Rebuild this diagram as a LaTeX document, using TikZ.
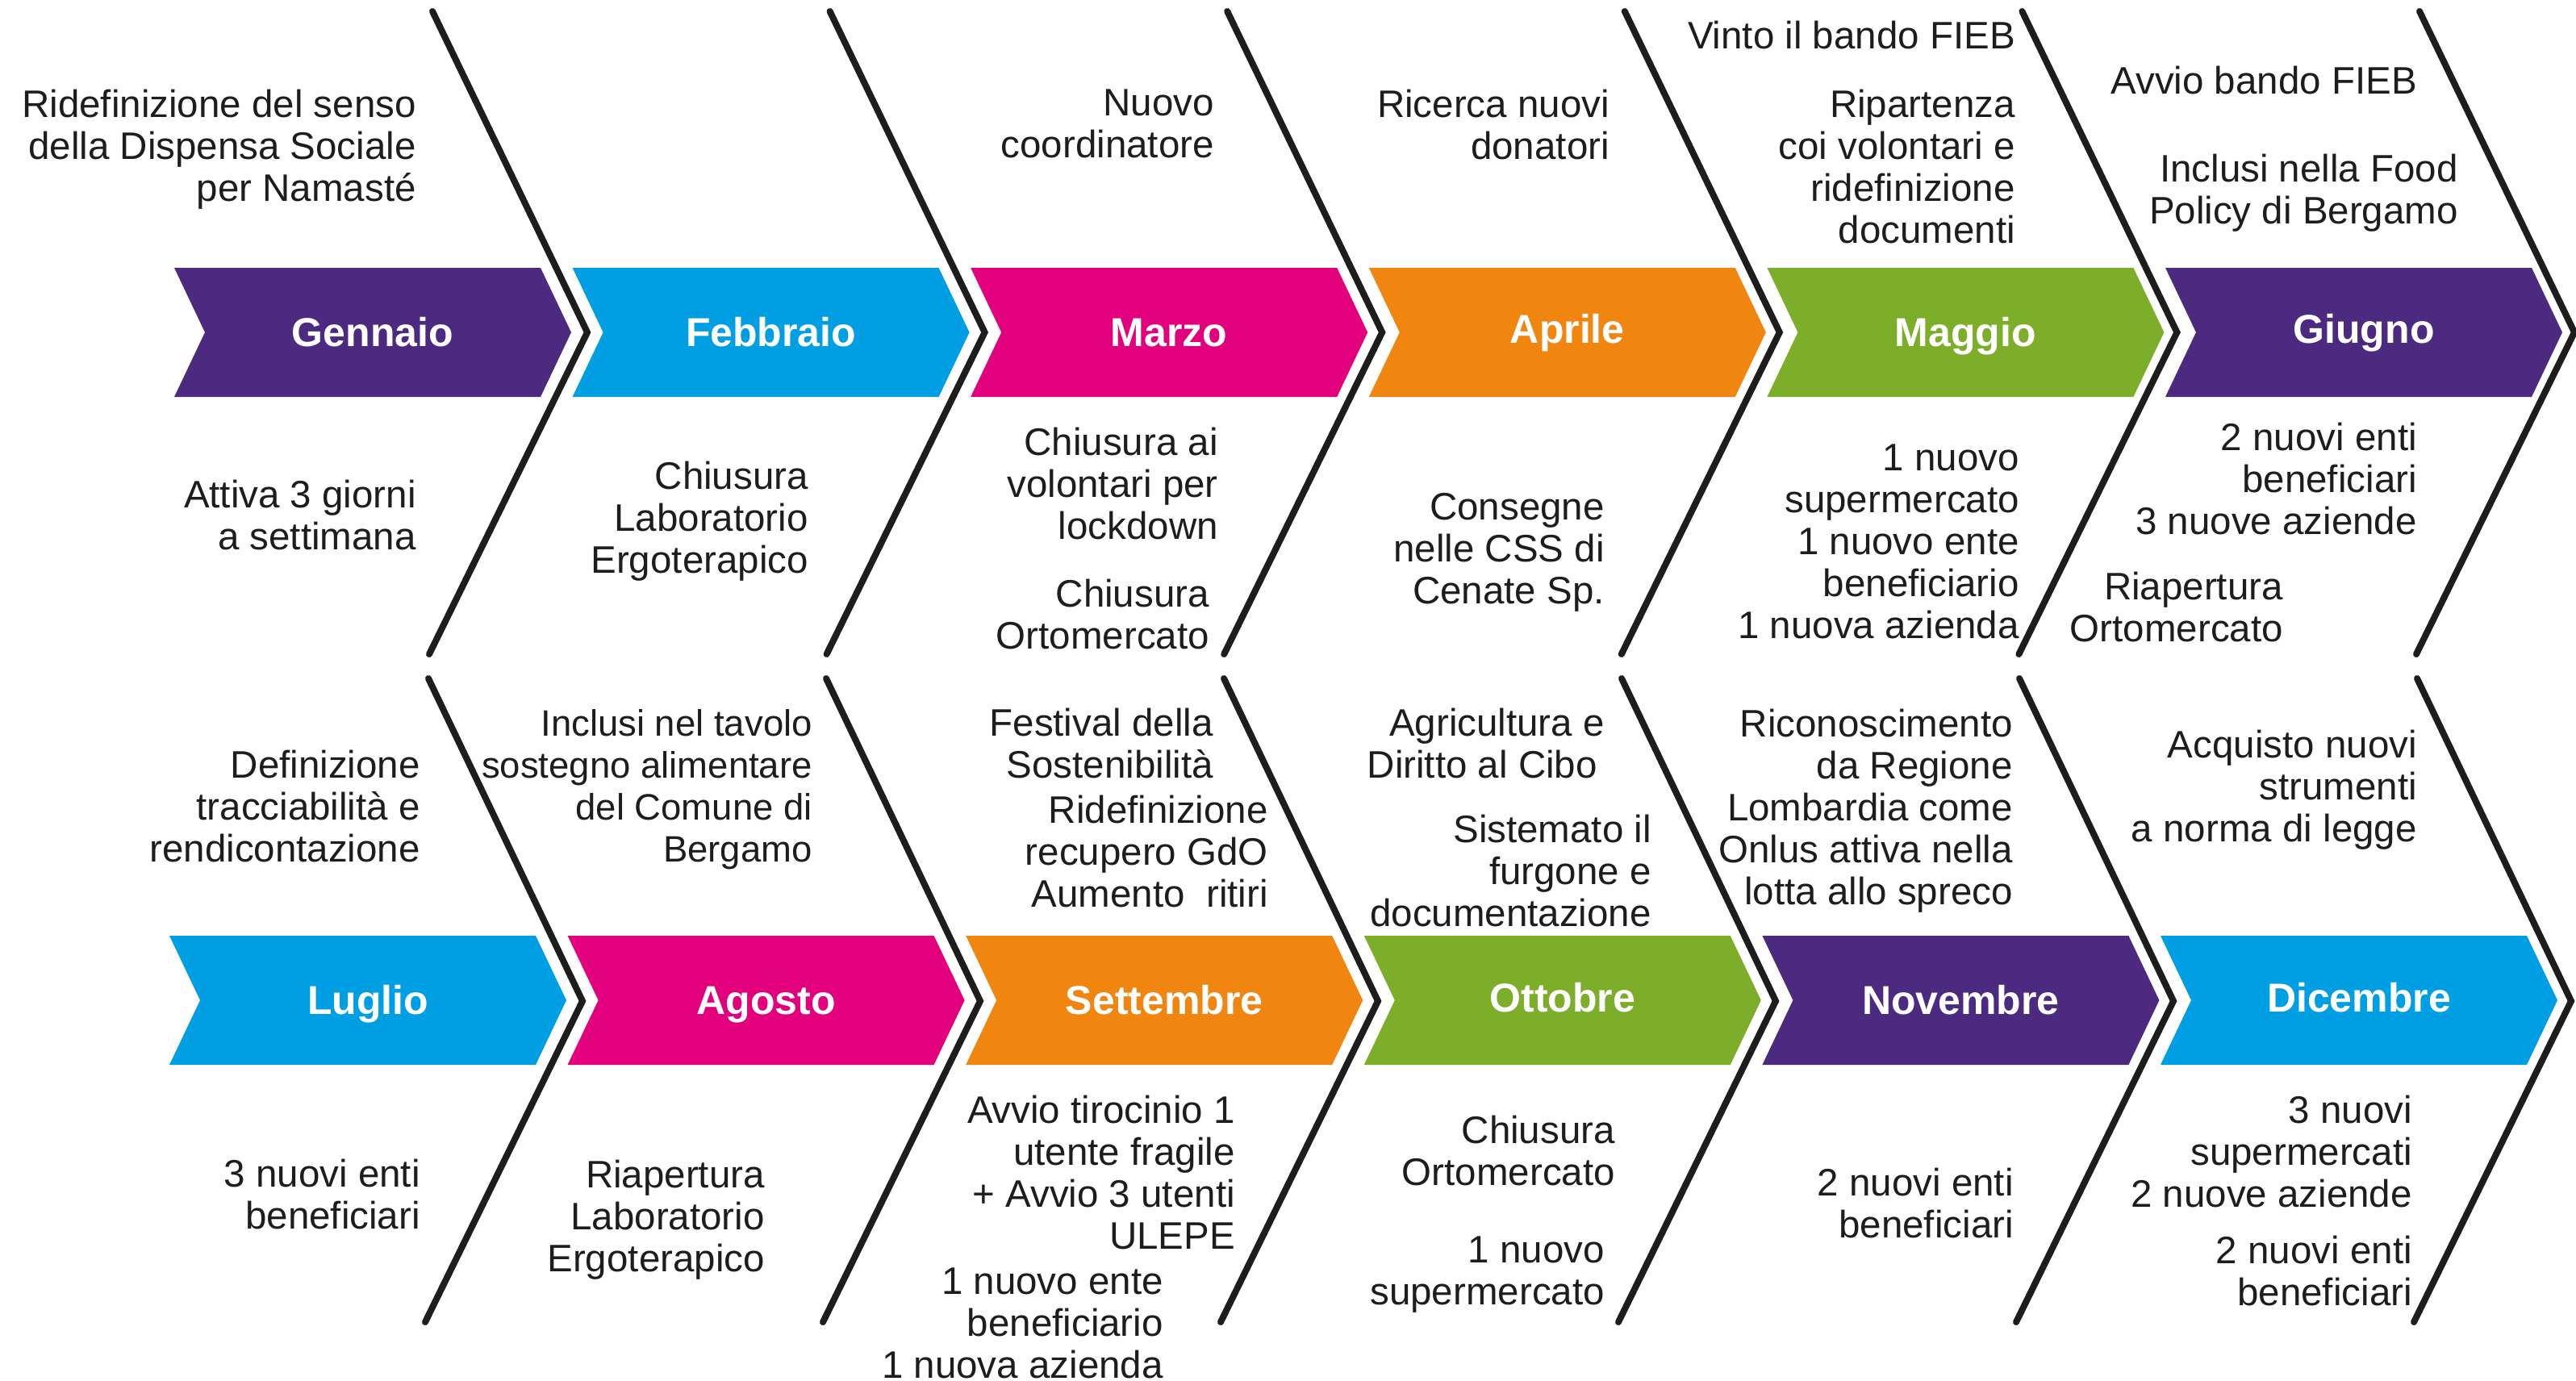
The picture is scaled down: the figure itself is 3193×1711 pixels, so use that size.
\documentclass[tikz,border=0pt]{standalone}
\usepackage{fontspec}
\setmainfont{Liberation Sans}
\definecolor{cpurple}{HTML}{4B2A7F}
\definecolor{cblue}{HTML}{009FE3}
\definecolor{cmag}{HTML}{E3007D}
\definecolor{corange}{HTML}{F0850F}
\definecolor{cgreen}{HTML}{7DAE2A}
\definecolor{txt}{HTML}{1D1D1B}
\begin{document}
\begin{tikzpicture}[x=1pt,y=-1pt,
  note/.style={anchor=north east, align=right, inner sep=0pt, text=txt,
    font=\fontsize{47.5}{52}\selectfont},
  month/.style={anchor=base, inner sep=0pt, text=white,
    font=\fontsize{50}{60}\selectfont\bfseries},
  sepline/.style={line width=8pt, draw=txt, line cap=round}]
\useasboundingbox (0,0) rectangle (3193,1711);
\clip (0,0) rectangle (3193,1711);
% row 1
\foreach \k/\col/\lab/\dy/\nm in {0/cpurple/Gennaio/0/gen, 1/cblue/Febbraio/0/feb, 2/cmag/Marzo/0/mar, 3/corange/Aprile/-4/apr, 4/cgreen/Maggio/0/mag, 5/cpurple/Giugno/-4/giu}{
  \pgfmathsetmacro\L{216+\k*493.6}
  \fill[\col] (\L,332) -- ++(454,0) -- ++(38,80) -- ++(-38,80) -- ++(-454,0) -- ++(38,-80) -- cycle;
  \node[month] (\nm) at (\L+246,429+\dy) {\lab};
  \pgfmathsetmacro\X{728+\k*492.6}
  \draw[sepline] (\X-192,14) -- (\X,412) -- (\X-196,811);
}
% row 2
\foreach \k/\col/\lab/\dy/\nm in {0/cblue/Luglio/0/lug, 1/cmag/Agosto/0/ago, 2/corange/Settembre/0/set, 3/cgreen/Ottobre/-3/ott, 4/cpurple/Novembre/0/nov, 5/cblue/Dicembre/-3/dic}{
  \pgfmathsetmacro\L{210+\k*493.6}
  \fill[\col] (\L,1160) -- ++(454,0) -- ++(38,80) -- ++(-38,80) -- ++(-454,0) -- ++(38,-80) -- cycle;
  \node[month] (\nm) at (\L+246,1257+\dy) {\lab};
  \pgfmathsetmacro\X{722+\k*493}
  \draw[sepline] (\X-191,841) -- (\X,1241) -- (\X-195,1639);
}
% row 1 top notes
\node[note] (n1) at (516,111) {Ridefinizione del senso\\della Dispensa Sociale\\per Namasté};
\node[note] (n2) at (1505,111) {Nuovo\\coordinatore};
\node[note] (n3) at (1995,111) {Ricerca nuovi\\donatori};
\node[note] (n4) at (2498,26) {Vinto il bando FIEB};
\node[note] (n5) at (2498,111) {Ripartenza\\coi volontari e\\ridefinizione\\documenti};
\node[note] (n6) at (2996,82) {Avvio bando FIEB};
\node[note] (n7) at (3047,191) {Inclusi nella Food\\Policy di Bergamo};
% row 1 bottom notes
\node[note] (n8) at (516,595) {Attiva 3 giorni\\a settimana};
\node[note] (n9) at (1002,572) {Chiusura\\Laboratorio\\Ergoterapico};
\node[note] (n10) at (1510,530) {Chiusura ai\\volontari per\\lockdown};
\node[note] (n11) at (1499,718) {Chiusura\\Ortomercato};
\node[note] (n12) at (1989,611) {Consegne\\nelle CSS di\\Cenate Sp.};
\node[note] (n13) at (2503,551) {1 nuovo\\supermercato\\1 nuovo ente\\beneficiario\\1 nuova azienda};
\node[note] (n14) at (2996,524) {2 nuovi enti\\beneficiari\\3 nuove aziende};
\node[note] (n15) at (2830,709) {Riapertura\\Ortomercato};
% row 2 top notes
\node[note] (n16) at (521,930) {Definizione\\tracciabilità e\\rendicontazione};
\node[note, font=\fontsize{45.5}{52}\selectfont] (n17) at (1007,879) {Inclusi nel tavolo\\sostegno alimentare\\del Comune di\\Bergamo};
\node[note] (n18) at (1504,878) {Festival della\\Sostenibilità};
\node[note] (n19) at (1572,986) {Ridefinizione\\recupero GdO\\Aumento\ \ ritiri};
\node[note] (n20) at (1989,878) {Agricultura e\\Diritto al Cibo\hspace*{9pt}};
\node[note] (n21) at (2047,1010) {Sistemato il\\furgone e\\documentazione};
\node[note] (n22) at (2495,879) {Riconoscimento\\da Regione\\Lombardia come\\Onlus attiva nella\\lotta allo spreco};
\node[note] (n23) at (2996,905) {Acquisto nuovi\\strumenti\\a norma di legge};
% row 2 bottom notes
\node[note] (n24) at (521,1437) {3 nuovi enti\\beneficiari};
\node[note] (n25) at (948,1438) {Riapertura\\Laboratorio\\Ergoterapico};
\node[note] (n26) at (1531,1358) {Avvio tirocinio 1\\utente fragile\\+ Avvio 3 utenti\\ULEPE};
\node[note] (n27) at (1442,1572) {1 nuovo ente\\beneficiario\\1 nuova azienda};
\node[note] (n28) at (2002,1383) {Chiusura\\Ortomercato};
\node[note] (n29) at (1989,1533) {1 nuovo\\supermercato};
\node[note] (n30) at (2496,1448) {2 nuovi enti\\beneficiari};
\node[note] (n31) at (2990,1358) {3 nuovi\\supermercati\\2 nuove aziende};
\node[note] (n32) at (2990,1532) {2 nuovi enti\\beneficiari};
\end{tikzpicture}
\end{document}
